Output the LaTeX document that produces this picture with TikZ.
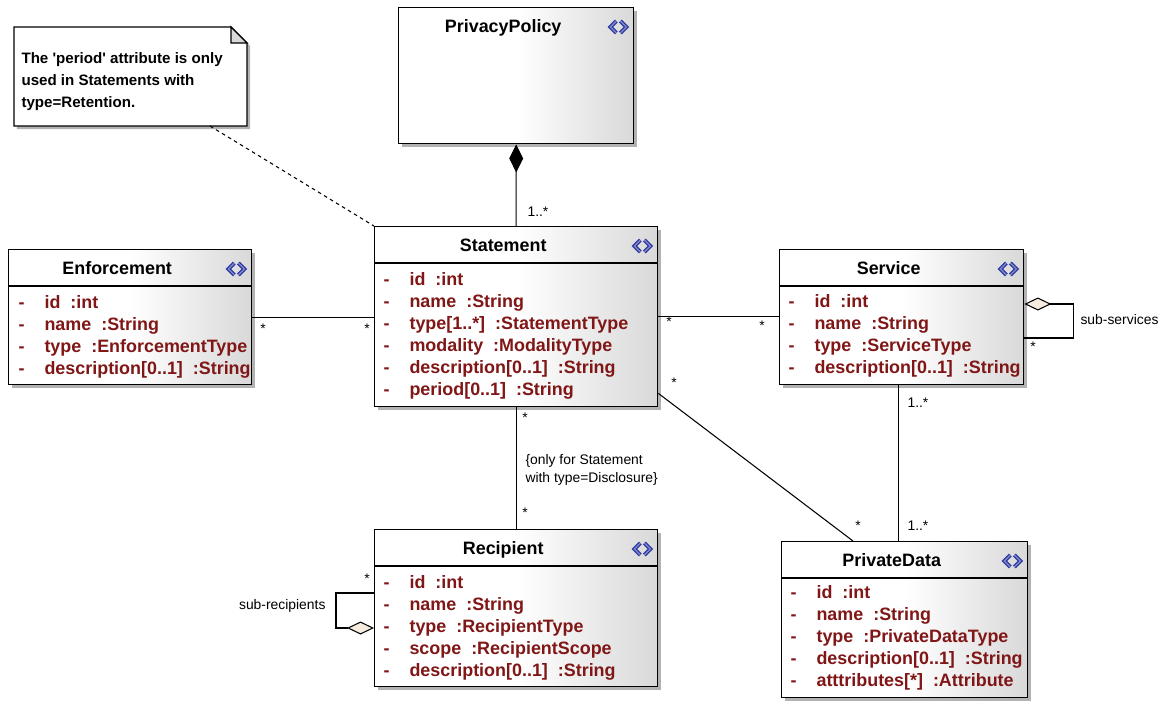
\documentclass[tikz,border=0pt]{standalone}
\usepackage{fontspec}
\setmainfont{Liberation Sans}
\usetikzlibrary{arrows.meta,calc,shadows}

\definecolor{attrred}{RGB}{128,22,22}
\definecolor{icoblue}{RGB}{40,52,160}
\definecolor{diafill}{RGB}{246,236,222}

\tikzset{
  cls/.style={draw, line width=0.8pt, anchor=north west, inner sep=0pt,
    left color=white, right color=black!15, middle color=white,
    drop shadow={shadow xshift=0.06cm, shadow yshift=-0.06cm, fill=black!50, opacity=.6}},
  ttl/.style={font=\fontsize{10.2}{12}\selectfont\bfseries, inner sep=0pt, text height=1.5ex, text depth=.25ex},
  attr/.style={font=\fontsize{10.2}{12}\selectfont\bfseries, text=attrred, anchor=west, inner sep=0pt,
    text height=1.5ex, text depth=.25ex},
  mult/.style={font=\fontsize{7.9}{10.2}\selectfont, inner sep=0pt},
  notetxt/.style={font=\fontsize{8.6}{12.5}\selectfont\bfseries, align=left, inner sep=0pt, anchor=north west},
  comp/.style={{Diamond[length=0.56cm,width=0.28cm]}-},
  agg/.style={{Diamond[length=0.54cm,width=0.26cm,fill=diafill]}-},
  ico/.pic={\draw[double=icoblue!60, draw=icoblue, line width=0.024cm, double distance=0.03cm]
    (-2,-6) -- (-8,0) -- (-2,6) (2,-6) -- (8,0) -- (2,6);}
}

\begin{document}
\begin{tikzpicture}[x=0.02cm, y=-0.02cm, line width=0.6pt]
\useasboundingbox (0,0) rectangle (1168,700);
\fill[white] (0,0) rectangle (1168,700);

%note
\draw[fill=white, line width=0.8pt, drop shadow={shadow xshift=0.06cm, shadow yshift=-0.06cm, fill=black!50, opacity=.6}]
  (14,27) -- (231,27) -- (247,43) -- (247,126) -- (14,126) -- cycle;
\draw[fill=black!15, line width=0.8pt] (231,27) -- (231,43) -- (247,43) -- cycle;
\node[notetxt] (note) at (21,52) {The \textquotesingle period\textquotesingle\ attribute is only\\used in Statements with\\type=Retention.};
\coordinate (notept) at (210,126);

%classes
\node[cls, minimum width=4.7cm, minimum height=2.72cm] (pp) at (398,7) {};
\node[cls, minimum width=4.86cm, minimum height=2.7cm] (enf) at (8,249) {};
\node[cls, minimum width=5.66cm, minimum height=3.6cm] (stmt) at (374,226) {};
\node[cls, minimum width=4.88cm, minimum height=2.7cm] (srv) at (779,249) {};
\node[cls, minimum width=5.66cm, minimum height=3.14cm] (rec) at (374,529) {};
\node[cls, minimum width=4.92cm, minimum height=3.12cm] (pd) at (781,541) {};

\foreach \c/\txt in {pp/PrivacyPolicy, enf/Enforcement, stmt/Statement, srv/Service, rec/Recipient, pd/PrivateData} {
  \node[ttl] (\c-t) at ($(\c.north)+(-13,20)$) {\txt};
  \pic at ($(\c.north east)+(-16,20)$) {ico};
}
\foreach \c in {enf,stmt,srv,rec,pd}
  \draw[line width=0.8pt] ($(\c.north west)+(0,37)$) -- ($(\c.north east)+(0,37)$);

\foreach \txt [count=\i] in {id\ \ :int, name\ \ :String, type\ \ :EnforcementType, description[0..1]\ \ :String} {
  \node[attr] (enf-d\i) at ($(enf.north west)+(10,{32+22*\i})$) {-};
  \node[attr] (enf-a\i) at ($(enf.north west)+(36,{32+22*\i})$) {\txt};
}
\foreach \txt [count=\i] in {id\ \ :int, name\ \ :String, type[1..*]\ \ :StatementType, modality\ \ :ModalityType, description[0..1]\ \ :String, period[0..1]\ \ :String} {
  \node[attr] (stmt-d\i) at ($(stmt.north west)+(9,{32+22*\i})$) {-};
  \node[attr] (stmt-a\i) at ($(stmt.north west)+(35,{32+22*\i})$) {\txt};
}
\foreach \txt [count=\i] in {id\ \ :int, name\ \ :String, type\ \ :ServiceType, description[0..1]\ \ :String} {
  \node[attr] (srv-d\i) at ($(srv.north west)+(9,{31+22*\i})$) {-};
  \node[attr] (srv-a\i) at ($(srv.north west)+(35,{31+22*\i})$) {\txt};
}
\foreach \txt [count=\i] in {id\ \ :int, name\ \ :String, type\ \ :RecipientType, scope\ \ :RecipientScope, description[0..1]\ \ :String} {
  \node[attr] (rec-d\i) at ($(rec.north west)+(9,{32+22*\i})$) {-};
  \node[attr] (rec-a\i) at ($(rec.north west)+(35,{32+22*\i})$) {\txt};
}
\foreach \txt [count=\i] in {id\ \ :int, name\ \ :String, type\ \ :PrivateDataType, description[0..1]\ \ :String, atttributes[*]\ \ :Attribute} {
  \node[attr] (pd-d\i) at ($(pd.north west)+(9,{30+22*\i})$) {-};
  \node[attr] (pd-a\i) at ($(pd.north west)+(35,{30+22*\i})$) {\txt};
}

%connectors
\draw[comp] (pp.south) -- (stmt.north);
\draw (enf.east) -- (enf.east -| stmt.west);
\draw (stmt.east) -- (stmt.east -| srv.west);
\draw ($(stmt.south east)+(0,-14)$) -- ($(pd.north west)+(72,0)$);
\coordinate (sp) at ($(srv.south)+(-3,0)$);
\draw (sp) -- (sp |- pd.north);
\draw (stmt.south) -- (rec.north);
\draw[agg] ($(rec.north west)+(0,99)$) -- ++(-38,0) |- ($(rec.north west)+(0,64)$);
\draw[agg] ($(srv.north east)+(0,55)$) -- ++(49,0) |- ($(srv.north east)+(0,89)$);
\draw[dash pattern=on 2pt off 2pt] (notept) -- (stmt.north west);

%multiplicities
\node[mult, anchor=west] (m-pp) at (527,212) {1..*};
\node[mult] (m-enf1) at (263,329) {*};
\node[mult] (m-enf2) at (367,329) {*};
\node[mult] (m-srv1) at (669,322) {*};
\node[mult] (m-srv2) at (762,326) {*};
\node[mult] (m-pd1) at (674,383) {*};
\node[mult] (m-pd2) at (858,526) {*};
\node[mult, anchor=west] (m-sp1) at (907,403) {1..*};
\node[mult, anchor=west] (m-sp2) at (907,526) {1..*};
\node[mult] (m-rec1) at (525,418) {*};
\node[mult] (m-rec2) at (525,513) {*};
\node[mult] (m-rr) at (367,579) {*};
\node[mult] (m-ss) at (1033,347) {*};
\node[mult, anchor=west] (l-ss) at (1080,320) {sub-services};
\node[mult, anchor=east] (l-rr) at (326,606) {sub-recipients};
\node[mult, anchor=north west, align=left] (cons) at (525,454) {\{only for Statement\\with type=Disclosure\}};

\end{tikzpicture}
\end{document}
